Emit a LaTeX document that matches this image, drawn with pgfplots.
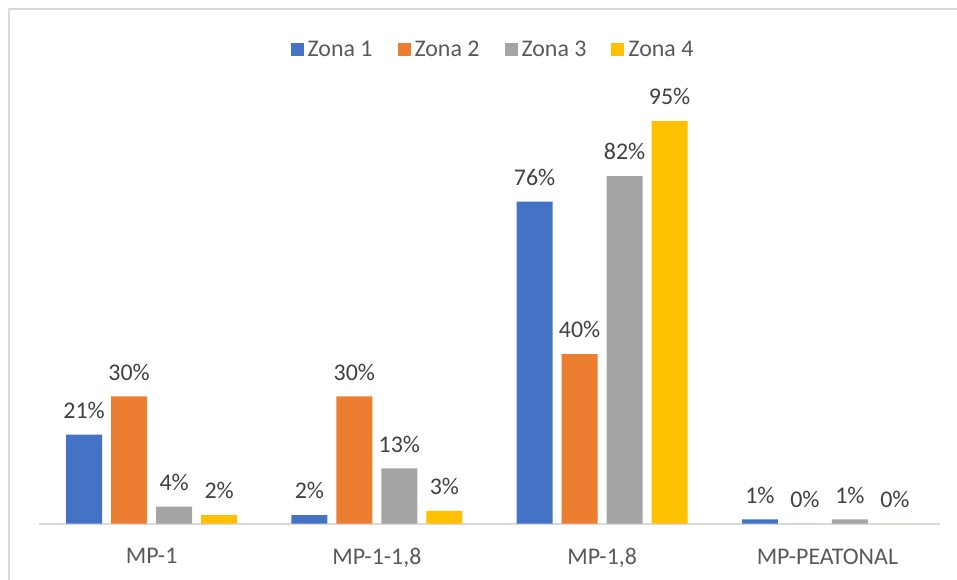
\documentclass[border=0pt]{standalone}
\usepackage{pgfplots}
\pgfplotsset{compat=1.18}
\usepackage{fontspec}
\setmainfont{Carlito}

\definecolor{zone1}{HTML}{4472C4}
\definecolor{zone2}{HTML}{ED7D31}
\definecolor{zone3}{HTML}{A5A5A5}
\definecolor{zone4}{HTML}{FFC000}
\definecolor{framegray}{HTML}{D9D9D9}
\definecolor{labelgray}{HTML}{595959}
\definecolor{datagray}{HTML}{404040}

\newcommand{\chartfont}{\fontsize{12}{14}\selectfont}

\begin{document}
\begin{tikzpicture}[x=1bp,y=1bp]
\useasboundingbox (0,0) rectangle (478.5,289.5);
% chart area frame (continues past the right and bottom edges)
\draw[framegray, line width=0.9bp] (4.5,-2) -- (4.5,285) -- (481,285);

\begin{axis}[
  at={(19.5bp,27.75bp)}, anchor=south west,
  scale only axis, width=450.5bp, height=211.75bp,
  xmin=-0.5, xmax=3.5, ymin=0, ymax=100,
  ybar=4.5bp, bar width=18bp,
  axis x line*=bottom, axis y line=none,
  x axis line style={draw=framegray, line width=1bp},
  xtick={0,1,2,3},
  xticklabels={{MP-1},{MP-1-1,8},{MP-1,8},{MP-PEATONAL}},
  major tick length=0pt, ytick=\empty,
  xticklabel style={font=\chartfont, text=labelgray, yshift=-9bp},
  /pgf/number format/assume math mode=true,
  nodes near coords={\pgfmathprintnumber[fixed,precision=0]{\pgfplotspointmeta}\%},
  nodes near coords style={font=\chartfont, text=datagray, yshift=4.5bp},
  every axis plot post/.append style={draw=none,
    legend image code/.code={\fill[##1,draw=none] (0bp,-3.25bp) rectangle (6.5bp,3.25bp);}},
  legend columns=4,
  legend style={at={(axis description cs:0.505,1.1181)}, anchor=center,
    draw=none, fill=none, font=\chartfont, text=labelgray,
    /tikz/every even column/.append style={column sep=10.5bp}},
  clip=false,
]
\addplot[fill=zone1] coordinates {(0,21) (1,2) (2,76) (3,1)};
\addplot[fill=zone2] coordinates {(0,30) (1,30) (2,40) (3,0)};
\addplot[fill=zone3] coordinates {(0,4) (1,13) (2,82) (3,1)};
\addplot[fill=zone4] coordinates {(0,2) (1,3) (2,95) (3,0)};
\legend{Zona 1, Zona 2, Zona 3, Zona 4}
\end{axis}
\end{tikzpicture}
\end{document}
